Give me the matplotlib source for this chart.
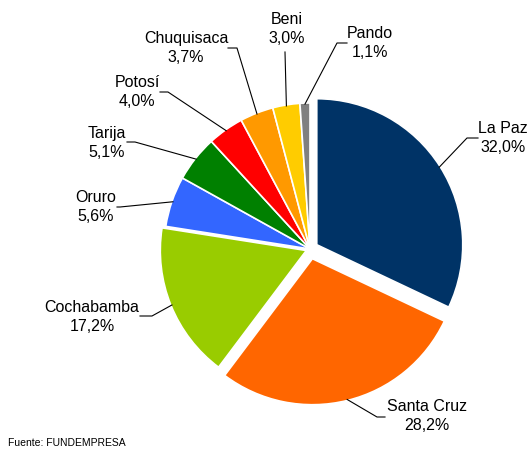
import numpy as np
import matplotlib.pyplot as plt

plt.rcParams['font.family'] = ['Liberation Sans', 'DejaVu Sans']

departamentos = ['La Paz', 'Santa Cruz', 'Cochabamba', 'Oruro', 'Tarija',
                 'Potosí', 'Chuquisaca', 'Beni', 'Pando']
porcentajes = [32.0, 28.2, 17.2, 5.6, 5.1, 4.0, 3.7, 3.0, 1.1]
colores = ['#003366', '#FF6600', '#99CC00', '#3366FF', '#008000',
           '#FF0000', '#FF9900', '#FFCC00', '#808080']
separacion = [8, 10, 4, 0, 0, 0, 0, 0, 0]  # en pixeles

# posiciones de etiquetas en pixeles (y desde arriba): texto, codo, fin de linea
etiquetas = {
    'La Paz': ((503, 138), (467, 138), (478, 138)),
    'Santa Cruz': ((427, 416), (377, 417), (385, 417)),
    'Cochabamba': ((92, 317), (152, 316), (140, 316)),
    'Oruro': ((96, 207), (120, 207), (117, 207)),
    'Tarija': ((107, 143), (135, 142), (127, 142)),
    'Potosí': ((137, 92), (168, 92), (160, 92)),
    'Chuquisaca': ((186, 48), (237, 48), (228, 48)),
    'Beni': ((287, 29), (285, 52), (285, 52)),
    'Pando': ((370, 43), (337, 43), (347, 43)),
}

W, H = 530, 449
fig = plt.figure(figsize=(W / 100, H / 100), dpi=100)
ax = fig.add_axes([0, 0, 1, 1])
ax.axis('off')

cx, cy, r = 310, H - 249, 146
wedges, _ = ax.pie(porcentajes, colors=colores, explode=separacion,
                   startangle=90, counterclock=False, center=(cx, cy),
                   radius=r, wedgeprops=dict(edgecolor='white', linewidth=1.2))
ax.set_xlim(0, W)
ax.set_ylim(0, H)
ax.set_aspect('equal')

for w, nombre, p in zip(wedges, departamentos, porcentajes):
    (tx, ty), (ex, ey), (fx, fy) = etiquetas[nombre]
    ang = np.deg2rad((w.theta1 + w.theta2) / 2)
    wx, wy = w.center
    px = wx + (w.r - 1) * np.cos(ang)
    py = wy + (w.r - 1) * np.sin(ang)
    ax.plot([px, ex, fx], [py, H - ey, H - fy], color='black', lw=0.8)
    ax.text(tx, H - ty, f'{nombre}\n{p:.1f}%'.replace('.', ','),
            ha='center', va='center', multialignment='center',
            fontsize=11.5, linespacing=1.4)

fig.text(8 / W, 1 - 443 / H, 'Fuente: FUNDEMPRESA', fontsize=7.5,
         ha='left', va='center')

fig.savefig('out.png', dpi=100)
